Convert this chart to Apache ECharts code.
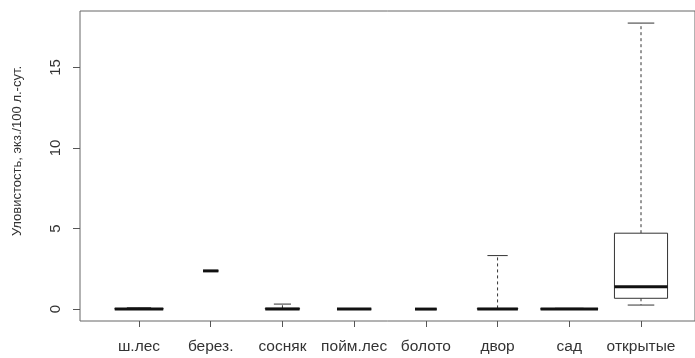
<!DOCTYPE html>
<html>
<head>
<meta charset="utf-8">
<script src="https://cdn.jsdelivr.net/npm/echarts@6/dist/echarts.min.js"></script>
<style>html,body{margin:0;padding:0;background:#fff}#c{width:695px;height:358px}</style>
</head>
<body>
<div id="c"></div>
<script>
const categories = ['ш.лес', 'берез.', 'сосняк', 'пойм.лес', 'болото', 'двор', 'сад', 'открытые'];
// five-number summaries: [min, Q1, median, Q3, max]
const whiskerLow  = [0,    2.37, 0,    0, 0, 0,    0,    0.25];
const quartile1   = [0,    2.37, 0,    0, 0, 0,    0,    0.67];
const medians     = [0,    2.37, 0,    0, 0, 0,    0,    1.39];
const quartile3   = [0.03, 2.37, 0.05, 0, 0, 0.04, 0.02, 4.71];
const whiskerHigh = [0.08, 2.37, 0.31, 0, 0, 3.32, 0.05, 17.75];
// sample sizes (box widths proportional to sqrt(n), varwidth)
const counts      = [10, 1, 5, 5, 2, 7, 14, 12];
const yTicks = [0, 5, 10, 15];
const yLabel = 'Уловистость, экз./100 л.-сут.';

const maxN = Math.max.apply(null, counts);
const boxData = categories.map((c, i) => [i, whiskerLow[i], quartile1[i], medians[i], quartile3[i], whiskerHigh[i], counts[i]]);

const FONT = 'Liberation Sans, Arial, sans-serif';
const INK = '#333';

function renderBox(params, api) {
  const i = api.value(0);
  const band = api.size([1, 0])[0];
  const w = 0.8 * band * Math.sqrt(api.value(6) / maxN);
  const cx = api.coord([i, 0])[0];
  const y = k => api.coord([i, api.value(k)])[1];
  const yMin = y(1), yQ1 = y(2), yMed = y(3), yQ3 = y(4), yMax = y(5);
  const capW = w / 2;
  const children = [];
  const dash = {stroke: INK, lineWidth: 1, lineDash: [3, 3]};
  const solid = {stroke: INK, lineWidth: 1};
  if (yMax < yQ3) children.push({type: 'line', shape: {x1: cx, y1: yQ3, x2: cx, y2: yMax}, style: dash});
  if (yMin > yQ1) children.push({type: 'line', shape: {x1: cx, y1: yQ1, x2: cx, y2: yMin}, style: dash});
  children.push({type: 'line', shape: {x1: cx - capW / 2, y1: yMax, x2: cx + capW / 2, y2: yMax}, style: solid});
  children.push({type: 'line', shape: {x1: cx - capW / 2, y1: yMin, x2: cx + capW / 2, y2: yMin}, style: solid});
  children.push({type: 'rect', shape: {x: cx - w / 2, y: yQ3, width: w, height: Math.max(yQ1 - yQ3, 0)}, style: {stroke: INK, lineWidth: 1, fill: '#fff'}});
  children.push({type: 'line', shape: {x1: cx - w / 2, y1: yMed, x2: cx + w / 2, y2: yMed}, style: {stroke: '#111', lineWidth: 3}});
  return {type: 'group', children: children};
}

const chart = echarts.init(document.getElementById('c'), null, {renderer: 'canvas'});
chart.setOption({
  backgroundColor: '#fff',
  animation: false,
  grid: [
    {left: 103.14, right: 18.14, top: 11, bottom: 37},
    {left: 80, right: -5, top: 11, bottom: 37, show: true, borderColor: '#666', borderWidth: 1, backgroundColor: 'transparent'}
  ],
  xAxis: [
    {type: 'category', gridIndex: 0, data: categories, boundaryGap: true, position: 'bottom',
     axisLine: {show: false, onZero: false},
     axisTick: {show: true, alignWithLabel: true, interval: 0, length: 6, lineStyle: {color: '#555'}},
     axisLabel: {interval: 0, hideOverlap: false, margin: 18, color: INK, fontSize: 15.5, fontFamily: FONT},
     splitLine: {show: false}},
    {type: 'value', gridIndex: 1, show: false, min: 0, max: 1}
  ],
  yAxis: [
    {type: 'value', gridIndex: 0, min: -0.74, max: 18.5, show: false},
    {type: 'value', gridIndex: 1, min: -0.74, max: 18.5,
     axisLine: {show: false},
     axisTick: {show: true, length: 7, customValues: yTicks, lineStyle: {color: '#555'}},
     axisLabel: {customValues: yTicks, rotate: 90, margin: 17, color: INK, fontSize: 15, fontFamily: FONT},
     splitLine: {show: false}}
  ],
  graphic: [
    {type: 'text', x: 17, y: 151, rotation: Math.PI / 2,
     style: {text: yLabel, fill: INK, font: '13px ' + FONT, align: 'center', verticalAlign: 'middle'}}
  ],
  series: [
    {type: 'custom', xAxisIndex: 0, yAxisIndex: 0, renderItem: renderBox, data: boxData, clip: false}
  ]
});
</script>
</body>
</html>
